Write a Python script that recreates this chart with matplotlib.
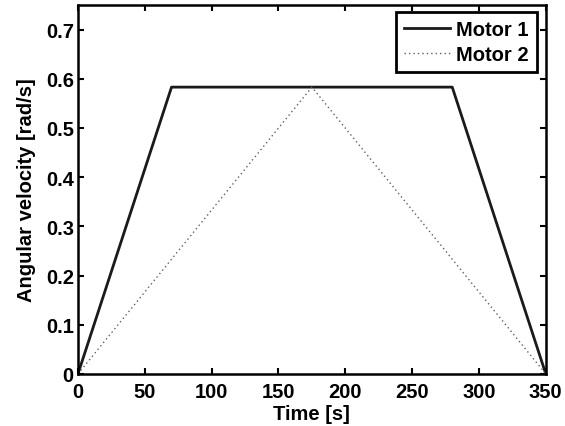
import matplotlib
matplotlib.use("Agg")
import matplotlib.pyplot as plt

# Motion profiles
time_motor1 = [0, 70, 280, 350]
omega_motor1 = [0, 0.583, 0.583, 0]
time_motor2 = [0, 175, 350]
omega_motor2 = [0, 0.583, 0]

x_ticks = [0, 50, 100, 150, 200, 250, 300, 350]
y_ticks = [0, 0.1, 0.2, 0.3, 0.4, 0.5, 0.6, 0.7]
y_labels = ["0", "0.1", "0.2", "0.3", "0.4", "0.5", "0.6", "0.7"]

plt.rcParams["font.family"] = ["Liberation Sans", "DejaVu Sans"]
plt.rcParams["font.weight"] = "bold"
fs = 14.5

fig = plt.figure(figsize=(5.65, 4.27), dpi=100)
ax = fig.add_axes([0.138, 0.122, 0.828, 0.864])

ax.plot(time_motor1, omega_motor1, color="#1a1a1a", lw=2.0, label="Motor 1")
ax.plot(time_motor2, omega_motor2, color="#606060", lw=1.0, ls=(0, (1, 2.2)), label="Motor 2")

ax.set_xlim(0, 350)
ax.set_ylim(0, 0.75)
ax.set_xticks(x_ticks)
ax.set_yticks(y_ticks)
ax.set_yticklabels(y_labels)

ax.tick_params(direction="in", top=True, right=True, length=4, width=1.5,
               labelsize=fs)
ax.tick_params(axis="x", pad=6)
ax.tick_params(axis="y", pad=3)
for s in ax.spines.values():
    s.set_linewidth(1.8)

ax.set_xlabel("Time [s]", fontsize=fs, fontweight="bold", labelpad=2)
ax.set_ylabel("Angular velocity [rad/s]", fontsize=fs, fontweight="bold", labelpad=7)

leg = ax.legend(loc="upper right", bbox_to_anchor=(0.981, 0.982), fontsize=fs,
                frameon=True, fancybox=False, borderpad=0.4, handlelength=2.3,
                handletextpad=0.3, labelspacing=0.3, borderaxespad=0)
leg.get_frame().set_edgecolor("black")
leg.get_frame().set_linewidth(2.0)
leg.get_frame().set_alpha(1)

fig.savefig("out.png", dpi=100)
